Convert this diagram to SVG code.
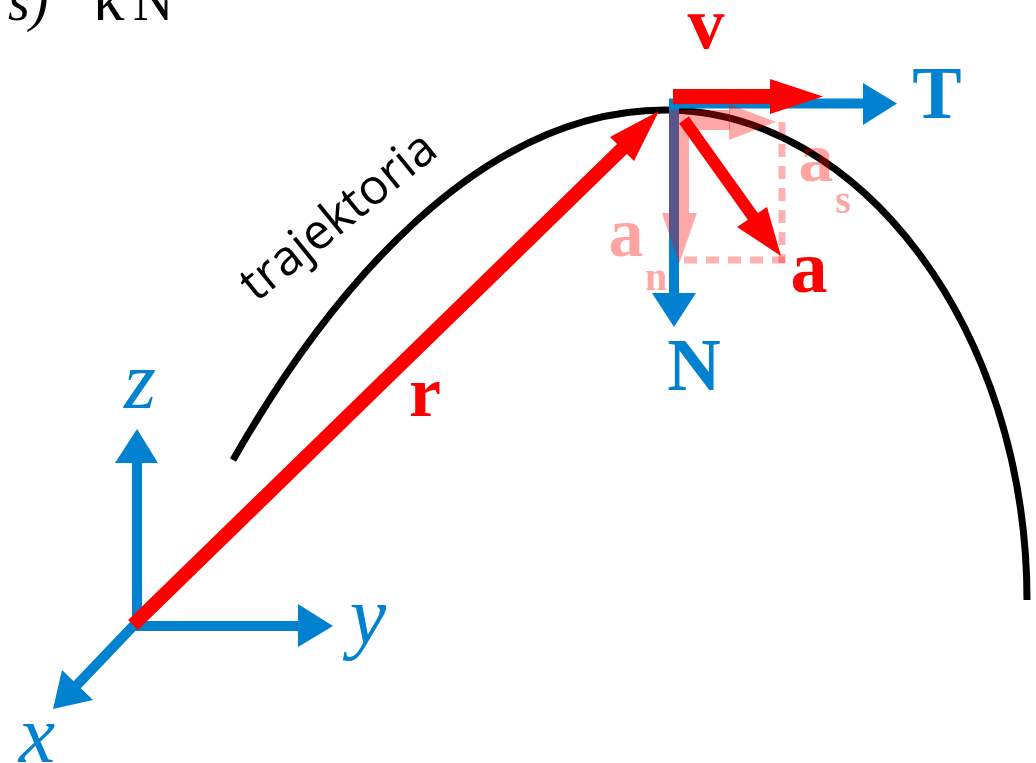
<svg xmlns="http://www.w3.org/2000/svg" width="1036" height="763" viewBox="0 0 1036 763">
<style>
.blue{fill:#0082d0}
.bl{stroke:#0082d0;fill:none;stroke-width:10}
.red{fill:#ff0000}
.rl{stroke:#ff0000;fill:none}
.pale{fill:#ff0000;fill-opacity:0.34}
.pl{stroke:#ff0000;stroke-opacity:0.3;fill:none;stroke-width:7;stroke-dasharray:13 9}
.lbl{font-family:"Liberation Serif","Times New Roman",serif;font-weight:bold}
.it{font-family:"Liberation Serif","Times New Roman",serif;font-style:italic}
</style>
<rect width="1036" height="763" fill="#ffffff"/>
<g id="header">
<text class="it" x="8" y="20" font-size="56">s)</text>
<text x="93" y="20" font-size="64" font-family="Liberation Serif, serif">κ</text>
<text x="133" y="20" font-size="56" font-family="Liberation Serif, serif">N</text>
</g>
<g id="trajectory">
<path d="M233,460 C330,290 480,110 665,110 C860,110 1027,330 1027,600" fill="none" stroke="#000" stroke-width="7"/>
<text transform="translate(256,303) rotate(-39)" font-family="Open Sans, sans-serif" font-size="49" fill="#000">trajektoria</text>
</g>
<g id="connectors">
<g id="axis-z"><line class="bl" x1="137" y1="630" x2="137" y2="462"/><polygon class="blue" points="137,429 115,463 158,463"/></g>
<g id="axis-y"><line class="bl" x1="132" y1="626" x2="299" y2="626"/><polygon class="blue" points="333,626 298,604 298,647"/></g>
<g id="axis-x"><line class="bl" x1="137" y1="622" x2="76" y2="686"/><polygon class="blue" points="53,709 62,670 93,700"/></g>
<g id="T-N"><polyline class="bl" points="864,103.5 674,103.5 674,294" stroke-linejoin="miter"/>
<polygon class="blue" points="897,103.5 863,83 863,125"/>
<polygon class="blue" points="674,327 652,293 696,293"/></g>
<g id="v"><line class="rl" x1="673" y1="96.5" x2="771" y2="96.5" stroke-width="15"/><polygon class="red" points="823,96.5 770,79 770,114"/></g>
<g id="components">
<rect class="pale" x="669" y="110" width="20" height="103"/>
<polygon class="pale" points="679,264 662,213 697,213"/>
<rect class="pale" x="689" y="110" width="41" height="20"/>
<polygon class="pale" points="776,122 729,104 729,140"/>
<line class="pl" x1="782" y1="122" x2="782" y2="263"/>
<line class="pl" x1="684" y1="260" x2="785" y2="260"/>
</g>
<g id="a"><line class="rl" x1="684" y1="120" x2="754" y2="218" stroke-width="12"/><polygon class="red" points="781,256 737,227 767,207"/></g>
<g id="r"><line class="rl" x1="133" y1="625" x2="623" y2="148" stroke-width="14"/><polygon class="red" points="659,111 610,137 634,161"/></g>
</g>
<g id="labels">
<text class="lbl" x="706" y="48" font-size="74" fill="#ff0000" text-anchor="middle">v</text>
<text class="lbl" x="937" y="118" font-size="74" fill="#0082d0" text-anchor="middle">T</text>
<text class="lbl" x="694" y="390" font-size="74" fill="#0082d0" text-anchor="middle">N</text>
<text class="lbl" x="425" y="416" font-size="72" fill="#ff0000" text-anchor="middle">r</text>
<text class="lbl" x="809" y="292" font-size="74" fill="#ff0000" text-anchor="middle">a</text>
<text class="lbl" x="816" y="181" font-size="70" fill="#ff0000" fill-opacity="0.36" text-anchor="middle">a</text>
<text class="lbl" x="843" y="213" font-size="40" fill="#ff0000" fill-opacity="0.36" text-anchor="middle">s</text>
<text class="lbl" x="626" y="256" font-size="70" fill="#ff0000" fill-opacity="0.36" text-anchor="middle">a</text>
<text class="lbl" x="656" y="290" font-size="40" fill="#ff0000" fill-opacity="0.36" text-anchor="middle">n</text>
<text class="it" x="140" y="408" font-size="82" fill="#0082d0" text-anchor="middle">z</text>
<text class="it" x="368" y="643" font-size="82" fill="#0082d0" text-anchor="middle">y</text>
<text class="it" x="37" y="762" font-size="82" fill="#0082d0" text-anchor="middle">x</text>
</g>
</svg>
